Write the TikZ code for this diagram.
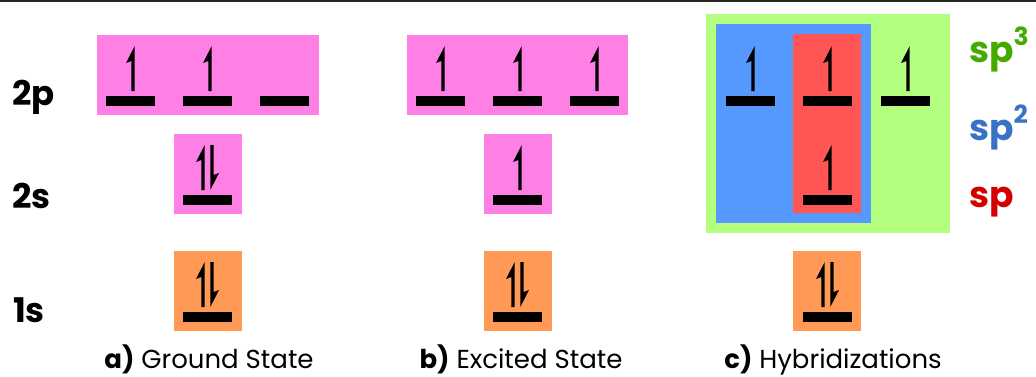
\documentclass[tikz,border=0pt]{standalone}
\usepackage{fontspec}
\setmainfont{Poppins}
\definecolor{pinkfill}{HTML}{FF80E5}
\definecolor{orangefill}{HTML}{FF9955}
\definecolor{greenfill}{HTML}{B3FF80}
\definecolor{bluefill}{HTML}{5599FF}
\definecolor{redfill}{HTML}{FF5555}
\definecolor{sptext}{HTML}{44AA00}
\definecolor{sptwo}{HTML}{3771C8}
\definecolor{spone}{HTML}{D40000}
\tikzset{
  % electron pointing up (half arrow, barb on the left), origin = bottom of shaft
  uph/.pic={\fill (-1.7,0) -- (1.7,0) -- (1.7,-45) -- (-7,-28) -- (-1.7,-30) -- cycle;},
  % electron pointing down (half arrow, barb on the right)
  dnh/.pic={\fill (1.7,-45) -- (-1.7,-45) -- (-1.7,0) -- (7,-17) -- (1.7,-15) -- cycle;},
  % orbital levels, origin = top-left corner of the bar
  empty/.pic={\fill (0,0) rectangle (49,10);},
  single/.pic={\fill (0,0) rectangle (49,10); \pic at (27,-5) {uph};},
  paired/.pic={\fill (0,0) rectangle (49,10); \pic at (20,-5) {uph}; \pic at (29,-5) {dnh};},
  shell/.style={font=\fontsize{34}{34}\selectfont\bfseries, anchor=base west, inner sep=0},
  hyb/.style={font=\fontsize{36}{36}\selectfont\bfseries, anchor=base west, inner sep=0},
  caption/.style={font=\fontsize{26}{26}\selectfont, anchor=base, inner sep=0},
}
\newcommand\supnum[1]{\raisebox{17pt}{\fontsize{25}{25}\selectfont #1}}
\begin{document}
\begin{tikzpicture}[x=1pt,y=-1pt]
\useasboundingbox (0,0) rectangle (1036,376);
\fill[black!85] (0,0) rectangle (1036,1.5);

% a) ground state
\fill[pinkfill] (97,35) rectangle (319,115);
\fill[pinkfill] (174,134) rectangle (242,214);
\fill[orangefill] (174,251) rectangle (242,331);
\pic at (106,96) {single};
\pic at (183,96) {single};
\pic at (260,96) {empty};
\pic at (183,195) {paired};
\pic at (183,312) {paired};

% b) excited state
\fill[pinkfill] (407,35) rectangle (628,115);
\fill[pinkfill] (484,134) rectangle (552,214);
\fill[orangefill] (484,251) rectangle (552,331);
\pic at (416,96) {single};
\pic at (493,96) {single};
\pic at (570,96) {single};
\pic at (493,195) {single};
\pic at (493,312) {paired};

% c) hybridizations
\fill[greenfill] (706,14) rectangle (950,233);
\fill[bluefill] (716,24) rectangle (871,223);
\fill[redfill] (793,34) rectangle (861,213);
\fill[orangefill] (793,251) rectangle (861,331);
\pic at (726,96) {single};
\pic at (803,96) {single};
\pic at (881,96) {single};
\pic at (803,195) {single};
\pic at (803,312) {paired};

% shell labels
\node[shell] (l2p) at (12,105) {2p};
\node[shell] (l2s) at (12,208) {2s};
\node[shell] (l1s) at (13,322) {1s};

% hybridization labels
\node[hyb, text=sptext] (sp3) at (969,62) {sp\supnum{3}};
\node[hyb, text=sptwo] (sp2) at (969,140) {sp\supnum{2}};
\node[hyb, text=spone] (sp1) at (969,207) {sp};

% captions
\node[caption] (ca) at (209,368) {\textbf{a)} Ground State};
\node[caption] (cb) at (521,368) {\textbf{b)} Excited State};
\node[caption] (cc) at (833,368) {\textbf{c)} Hybridizations};
\end{tikzpicture}
\end{document}
